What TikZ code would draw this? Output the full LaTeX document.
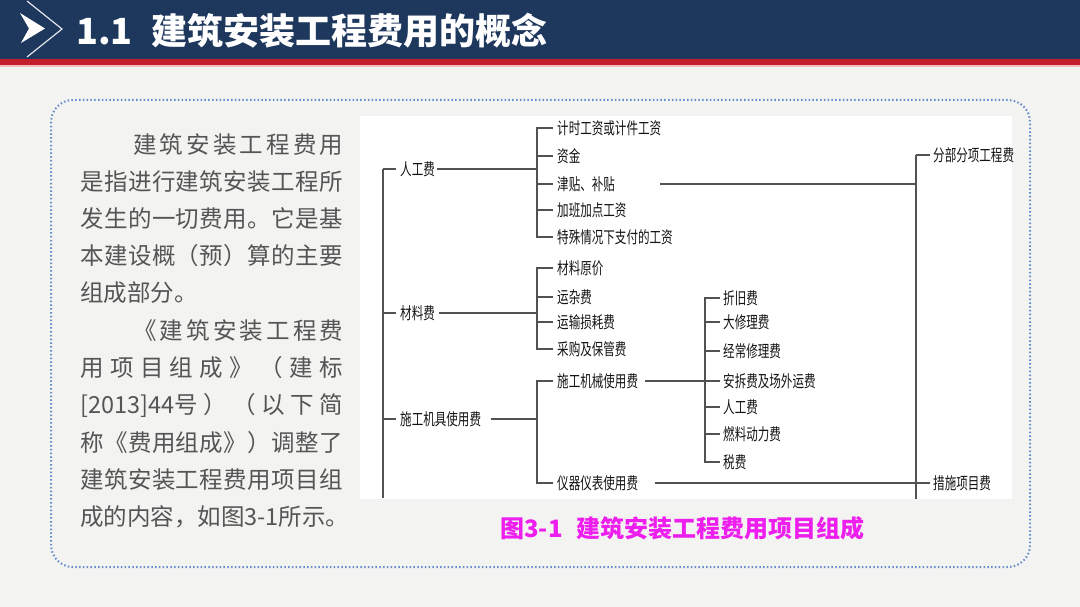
\documentclass[tikz,border=0pt]{standalone}
\usepackage{fontspec}
\setmainfont{Noto Sans CJK SC}
\newfontfamily\cjk{Noto Sans CJK SC}
\newfontfamily\dfont[FakeStretch=0.70]{Noto Sans CJK SC}
\definecolor{navy}{RGB}{30,55,92}
\definecolor{hdred}{RGB}{196,30,45}
\definecolor{hdpink}{RGB}{240,190,190}
\definecolor{slidebg}{RGB}{243,243,241}
\definecolor{dotblue}{RGB}{100,140,205}
\definecolor{txtgray}{RGB}{85,85,85}
\definecolor{capmag}{RGB}{238,30,238}
\def\spreadstopmark{\spreadstop}
\def\spreadaux#1{#1\spreadnext}
\def\spreadnext#1{\def\spreadtmp{#1}\ifx\spreadtmp\spreadstopmark\else\hfill#1\expandafter\spreadnext\fi}
\newcommand\spreadline[2]{\makebox[#1][s]{\spreadaux#2\spreadstop}}
\begin{document}
\begin{tikzpicture}[x=1pt,y=-1pt,
  lbl/.style={anchor=west, inner sep=0pt, text=black!92, font=\dfont\fontsize{16.5}{18}\selectfont},
  ln/.style={draw=black!68, line width=1.1pt},
  para/.style={anchor=west, inner sep=0pt, text=txtgray, font=\cjk\fontsize{23.5}{26}\selectfont}]
\useasboundingbox (0,0) rectangle (1080,607);
% background
\fill[slidebg] (0,0) rectangle (1080,607);
% header
\fill[navy] (0,0) rectangle (1080,59);
\fill[hdred] (0,59) rectangle (1080,65);
\fill[hdpink] (0,65) rectangle (1080,67);
\fill[white] (20,13) -- (45,28.5) -- (21,43) -- (29,28.5) -- cycle;
\draw[white!85!navy, line width=1.2pt] (27,1) -- (62,29) -- (27,57);
\node[anchor=west, inner sep=0pt, text=white, font=\cjk\bfseries\fontsize{36}{40}\selectfont] (title) at (76,31) {\makebox[75pt][l]{1.1}建筑安装工程费用的概念};
% dotted frame
\draw[dotblue, line width=2pt, dash pattern=on 1.5pt off 2.3pt, rounded corners=22pt] (51,100) rectangle (1030,567);
% left paragraph
\node[para] (t1) at (133,145) {\spreadline{210pt}{建筑安装工程费用}};
\node[para] (t2) at (80,182) {\spreadline{263pt}{是指进行建筑安装工程所}};
\node[para] (t3) at (80,219) {\spreadline{263pt}{发生的一切费用。它是基}};
\node[para] (t4) at (80,256) {\spreadline{263pt}{本建设概（预）算的主要}};
\node[para] (t5) at (80,293) {组成部分。};
\node[para] (t6) at (133,331) {\spreadline{210pt}{《建筑安装工程费}};
\node[para] (t7) at (80,368) {\spreadline{263pt}{用项目组成》（建标}};
\node[para] (t8) at (80,405) {\spreadline{263pt}{{[2013]44号}）（以下简}};
\node[para] (t9) at (80,443) {\spreadline{263pt}{称《费用组成》）调整了}};
\node[para] (t10) at (80,480) {\spreadline{263pt}{建筑安装工程费用项目组}};
\node[para] (t11) at (80,517) {成的内容，如图3-1所示。};
% figure area
\fill[white] (360,116) rectangle (1012,499);
% level 1
\node[lbl] (rg) at (400,169) {人工费};
\node[lbl] (cl) at (400,313) {材料费};
\node[lbl] (jj) at (400,419) {施工机具使用费};
% level 2
\node[lbl] (a1) at (557,128) {计时工资或计件工资};
\node[lbl] (a2) at (557,156) {资金};
\node[lbl] (a3) at (557,184) {津贴、补贴};
\node[lbl] (a4) at (557,210) {加班加点工资};
\node[lbl] (a5) at (557,237) {特殊情况下支付的工资};
\node[lbl] (b1) at (557,268) {材料原价};
\node[lbl] (b2) at (557,297) {运杂费};
\node[lbl] (b3) at (557,322) {运输损耗费};
\node[lbl] (b4) at (557,349) {采购及保管费};
\node[lbl] (jx) at (557,381) {施工机械使用费};
\node[lbl] (yq) at (557,483) {仪器仪表使用费};
% level 3
\node[lbl] (m1) at (723,298) {折旧费};
\node[lbl] (m2) at (723,322) {大修理费};
\node[lbl] (m3) at (723,351) {经常修理费};
\node[lbl] (m4) at (723,381) {安拆费及场外运费};
\node[lbl] (m5) at (723,407) {人工费};
\node[lbl] (m6) at (723,434) {燃料动力费};
\node[lbl] (m7) at (723,462) {税费};
% right
\node[lbl] (fb) at (933,155) {分部分项工程费};
\node[lbl] (cs) at (933,483) {措施项目费};
% trunks
\coordinate (L) at (383,169);
\coordinate (Lb) at (383,498);
\coordinate (B1) at (537,169);
\coordinate (B2) at (537,313);
\coordinate (B3) at (537,419);
\coordinate (B4) at (705,381);
\coordinate (R) at (916,155);
\coordinate (Rb) at (916,499);
% main trunk
\draw[ln] (L) -- (Lb);
\draw[ln] (L) -- ([xshift=-4pt]rg.west);
\draw[ln] (L |- cl.west) -- ([xshift=-4pt]cl.west);
\draw[ln] (L |- jj.west) -- ([xshift=-4pt]jj.west);
% bracket 1
\draw[ln] ([xshift=2pt]rg.east) -- (B1);
\draw[ln] ([xshift=-4pt]a1.west) -| (B1) |- ([xshift=-4pt]a5.west);
\foreach \n in {a2,a3,a4} \draw[ln] (B1 |- \n.west) -- ([xshift=-4pt]\n.west);
% bracket 2
\draw[ln] ([xshift=4pt]cl.east) -- (B2);
\draw[ln] ([xshift=-4pt]b1.west) -| (B2) |- ([xshift=-4pt]b4.west);
\foreach \n in {b2,b3} \draw[ln] (B2 |- \n.west) -- ([xshift=-4pt]\n.west);
% bracket 3
\draw[ln] ([xshift=10pt]jj.east) -- (B3);
\draw[ln] ([xshift=-4pt]jx.west) -| (B3) |- ([xshift=-4pt]yq.west);
% bracket 4
\draw[ln] ([xshift=7pt]jx.east) -- (B4);
\draw[ln] ([xshift=-3pt]m1.west) -| (B4) |- ([xshift=-3pt]m7.west);
\foreach \n in {m2,m3,m4,m5,m6} \draw[ln] (B4 |- \n.west) -- ([xshift=-3pt]\n.west);
% right trunk
\draw[ln] (R) -- (Rb);
\draw[ln] (R) -- ([xshift=-3pt]fb.west);
\draw[ln] ([xshift=45pt]a3.east) -- (R |- a3.east);
\draw[ln] ([xshift=17pt]yq.east) -- ([xshift=-3pt]cs.west);
% caption
\node[anchor=west, inner sep=0pt, text=capmag, font=\cjk\bfseries\fontsize{24}{28}\selectfont] (cap) at (500,528) {图3-1\hspace{14pt}建筑安装工程费用项目组成};
\end{tikzpicture}
\end{document}
